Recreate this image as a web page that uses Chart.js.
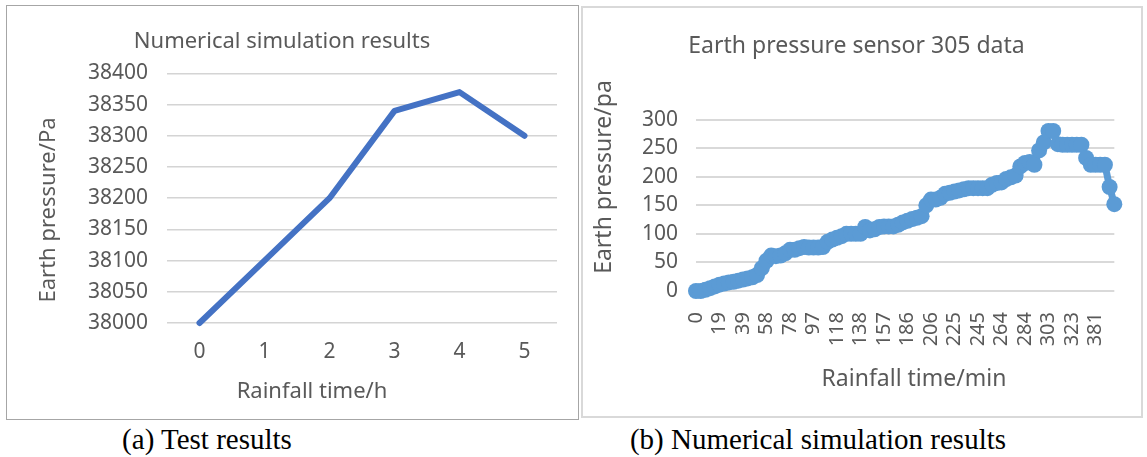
<!DOCTYPE html>
<html>
<head>
<meta charset="utf-8">
<script src="https://cdn.jsdelivr.net/npm/chart.js@4/dist/chart.umd.min.js"></script>
<style>
  html, body { margin: 0; padding: 0; background: #fff; }
  #page { position: relative; width: 1147px; height: 457px; overflow: hidden; background: #fff; }
  .panel { position: absolute; background: #fff; box-sizing: content-box; }
  #panelA { left: 6px; top: 5px; width: 571px; height: 413px; border: 1px solid #a6a6a6; }
  #panelB { left: 581px; top: 6px; width: 558px; height: 408px; border: 2px solid #d9d9d9; }
  .panel canvas { display: block; }
  .caption { position: absolute; top: 423px; font-family: "Liberation Serif", "Times New Roman", serif;
             font-size: 29px; line-height: 33px; color: #000; white-space: nowrap;
             transform: translateX(-50%); }
</style>
</head>
<body>
<div id="page">
  <div class="panel" id="panelA"><canvas id="chartA" width="571" height="413"></canvas></div>
  <div class="panel" id="panelB"><canvas id="chartB" width="558" height="408"></canvas></div>
  <div class="caption" style="left:207px">(a) Test results</div>
  <div class="caption" style="left:818px">(b) Numerical simulation results</div>
</div>
<script>
// ---- (a) numerical simulation: earth pressure vs rainfall hours ----
const hourLabels = ['0', '1', '2', '3', '4', '5'];
const simPressurePa = [38000, 38100, 38200, 38340, 38370, 38300];

// ---- (b) earth pressure sensor 305 readings vs rainfall minutes ----
const sensorMinutes = [
  0, 4, 8, 12, 16, 19,
  23, 27, 31, 35, 39,
  43, 47, 51, 55, 58,
  62, 66, 70, 74, 78,
  82, 86, 90, 94, 97,
  101, 105, 110, 114, 118,
  122, 126, 130, 134, 138,
  142, 146, 150, 154, 157,
  163, 169, 175, 181, 186,
  190, 194, 198, 202, 206,
  210, 214, 218, 222, 225,
  229, 233, 237, 241, 245,
  249, 253, 257, 261, 264,
  268, 272, 276, 280, 284,
  288, 292, 296, 300, 303,
  307, 311, 315, 319, 323,
  335, 346, 358, 370, 381,
  385, 389, 393, 397
];
const sensorPressurePa = [
  0, 0, 2, 5, 8, 11, 13, 15, 16, 18,
  20, 22, 24, 28, 40, 53, 62, 61, 62, 66,
  72, 72, 75, 77, 76, 76, 76, 77, 86, 90,
  93, 96, 100, 100, 100, 100, 112, 106, 108, 112,
  113, 113, 113, 116, 120, 123, 126, 128, 131, 150,
  160, 160, 163, 170, 172, 174, 176, 178, 180, 180,
  180, 180, 180, 186, 189, 190, 196, 199, 202, 218,
  224, 226, 221, 246, 260, 280, 280, 257, 256, 256,
  256, 256, 256, 233, 221, 221, 221, 221, 182, 152
];
const sensorTickEvery = 5;   // every 5th minute reading gets a label

const TEXT = '#595959';
const FONT = '"Noto Sans", "Open Sans", sans-serif';

// Axis titles drawn at fixed spots in the canvas
const axisTitles = {
  id: 'axisTitles',
  afterDraw(chart, args, o) {
    const ctx = chart.ctx;
    ctx.save();
    ctx.fillStyle = TEXT;
    ctx.textAlign = 'center';
    ctx.textBaseline = 'alphabetic';
    ctx.font = o.size + 'px ' + FONT;
    ctx.fillText(o.xText, o.xCenter, o.xBaseline);
    ctx.translate(o.yBaseline, o.yCenter);
    ctx.rotate(-Math.PI / 2);
    ctx.fillText(o.yText, 0, 0);
    ctx.restore();
  }
};

Chart.defaults.font.family = FONT;
Chart.defaults.color = TEXT;

new Chart(document.getElementById('chartA'), {
  type: 'line',
  data: {
    labels: hourLabels,
    datasets: [{
      data: simPressurePa,
      borderColor: '#4472C4',
      backgroundColor: '#4472C4',
      borderWidth: 6,
      borderCapStyle: 'round',
      borderJoinStyle: 'round',
      pointRadius: 0,
      tension: 0,
      clip: false
    }]
  },
  options: {
    responsive: false,
    animation: false,
    layout: { padding: { left: 0, right: 21, top: 0, bottom: 0 } },
    plugins: {
      legend: { display: false },
      tooltip: { enabled: false },
      title: {
        display: true,
        text: 'Numerical simulation results',
        color: TEXT,
        font: { size: 22, weight: 'normal' },
        padding: { top: 23, bottom: 18 }
      },
      axisTitles: {
        size: 22,
        xText: 'Rainfall time/h', xCenter: 305, xBaseline: 392,
        yText: 'Earth pressure/Pa', yCenter: 204, yBaseline: 48
      }
    },
    scales: {
      x: {
        offset: true,
        grid: { display: false, drawTicks: false },
        border: { display: false },
        ticks: { font: { size: 21 }, color: TEXT, padding: 16 },
        afterFit(s) { s.height = 96; }
      },
      y: {
        min: 38000,
        max: 38400,
        grid: { color: '#d4d4d4', lineWidth: 1.5, drawTicks: false },
        border: { display: false },
        ticks: {
          stepSize: 50, font: { size: 21 }, color: TEXT, padding: 19,
          callback: (v) => String(v)
        },
        afterFit(s) { s.width = 160; }
      }
    }
  },
  plugins: [axisTitles]
});

new Chart(document.getElementById('chartB'), {
  type: 'line',
  data: {
    labels: sensorMinutes.map(String),
    datasets: [{
      data: sensorPressurePa,
      borderColor: '#5B9BD5',
      backgroundColor: '#5B9BD5',
      borderWidth: 7,
      borderJoinStyle: 'round',
      borderCapStyle: 'round',
      pointRadius: 8,
      pointBorderWidth: 0,
      pointBackgroundColor: '#5B9BD5',
      tension: 0,
      clip: false
    }]
  },
  options: {
    responsive: false,
    animation: false,
    layout: { padding: { left: 0, right: 11, top: 0, bottom: 0 } },
    plugins: {
      legend: { display: false },
      tooltip: { enabled: false },
      title: {
        display: true,
        text: 'Earth pressure sensor 305 data',
        color: TEXT,
        font: { size: 23, weight: 'normal' },
        padding: { top: 25, bottom: 59 }
      },
      axisTitles: {
        size: 23,
        xText: 'Rainfall time/min', xCenter: 331, xBaseline: 378,
        yText: 'Earth pressure/pa', yCenter: 169, yBaseline: 28
      }
    },
    scales: {
      x: {
        offset: false,
        grid: { display: false, drawTicks: false },
        border: { display: false },
        ticks: {
          autoSkip: false,
          minRotation: 90,
          maxRotation: 90,
          font: { size: 20 },
          color: TEXT,
          padding: 21,
          callback(value, index) {
            return index % sensorTickEvery === 0 ? this.getLabelForValue(value) : null;
          }
        },
        afterFit(s) { s.height = 125; }
      },
      y: {
        min: 0,
        max: 300,
        grid: { color: '#d9d9d9', lineWidth: 2, drawTicks: false },
        border: { display: false },
        ticks: { stepSize: 50, font: { size: 21 }, color: TEXT, padding: 18 },
        afterFit(s) { s.width = 113; }
      }
    }
  },
  plugins: [axisTitles]
});
</script>
</body>
</html>
